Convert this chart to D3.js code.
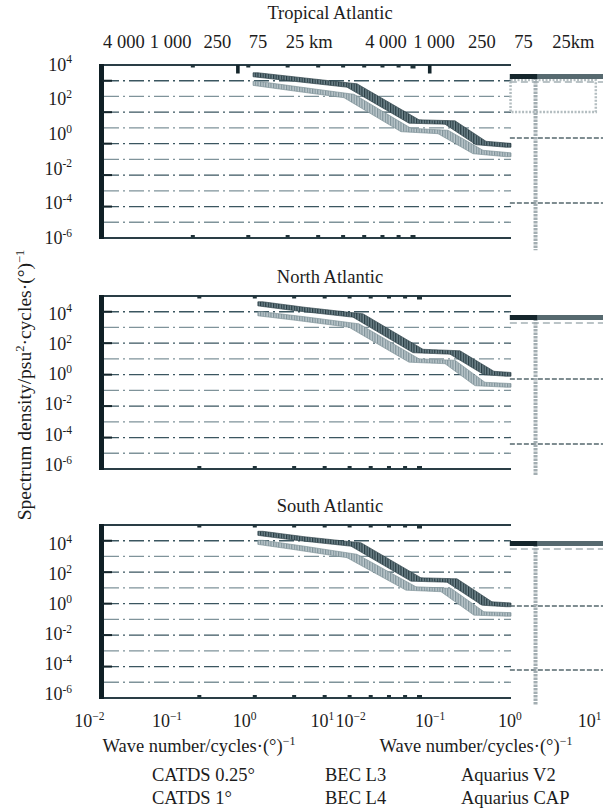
<!DOCTYPE html>
<html><head><meta charset="utf-8">
<script src="https://cdn.jsdelivr.net/npm/d3@7"></script>
<style>
body{margin:0;background:#fff;}
svg text{font-family:"Liberation Serif","Times New Roman",serif;fill:#1c1c1c;}
</style></head>
<body><svg id="fig" width="603" height="809"></svg>
<script>
// ---- data -------------------------------------------------------------
const regions = ["Tropical Atlantic", "North Atlantic", "South Atlantic"];
// SSS wave-number spectra: [wave number (cycles/deg), PSD (psu^2 per cycle/deg)]
const tropicalUpper = [[0.131,2655],[0.288,1330],[0.691,616],[1.959,5.19],[3.587,4.54],[6.039,0.299],[10,0.214]];
const tropicalLower = [[0.131,859],[0.288,367],[0.657,153],[1.712,1.68],[3.189,1.29],[5.742,0.0906],[10,0.0608]];
const northUpper = [[0.142,45700],[0.288,19800],[0.764,7380],[2.095,33.5],[3.901,26.7],[6.908,1.18],[10,0.94]];
const northLower = [[0.142,10000],[0.288,4680],[0.714,1610],[1.959,7.9],[3.587,6.29],[5.939,0.222],[10,0.177]];
const southUpper = [[0.142,54100],[0.288,23300],[0.739,9260],[2.026,43],[3.710,36.9],[6.679,1.08],[10,0.857]];
const southLower = [[0.142,13600],[0.288,5410],[0.691,1585],[1.863,10.8],[3.354,8.58],[5.840,0.233],[10,0.2]];
// right-hand panels: PSD band at the top, two flat levels, cut-off wave number
const rightBar = [[1460,2830],[3720,7960],[7360,15850]];
const rightLevels = [[0.575,1.05e-4],[0.48,2.45e-5],[0.74,4e-5]];
const rightCutoff = 2.1;
const rightDarkEnd = 2.2;
const tropicalInsetK = [1.02, 12];
const tropicalInsetPSD = [18.3, 1280];
// axes
const yTickExps = [4, 2, 0, -2, -4, -6];
const gridExps = [4, 3, 2, 1, 0, -1, -2, -3, -4, -5];
const yMajorExps = [4, 2, 0, -2, -4];
const xTickExps = [-2, -1, 0, 1];
const kmTicks = [4000, 1000, 250, 75, 25];
const minorTicks = [2, 3, 4, 5, 6, 7, 8, 9, 10];
const tropicalTopMarks = [2.78, 11.3];
const legendNames = ["CATDS 0.25°", "CATDS 1°", "BEC L3", "BEC L4", "Aquarius V2", "Aquarius CAP"];
const xTitle = "Wave number/cycles·(°)";
const yTitle = ["Spectrum density/psu", "2", "·cycles·(°)", "−1"];

// ---- layout -----------------------------------------------------------
const W = 603, H = 809;
const boxLeft = 100, boxRight = 511;
const panelBoxes = [
  {top: 65,  bottom: 238, labels: [238, 64.5],  minor: [98, 413],     title: 19},
  {top: 296, bottom: 469, labels: [465, 313.5], minor: [104.5, 419.5], title: 283},
  {top: 525, bottom: 698, labels: [694, 544],   minor: [104.5, 419.5], title: 512}
];
const spectra = [[tropicalUpper, tropicalLower], [northUpper, northLower], [southUpper, southLower]];

const svg = d3.select("#fig");
const defs = svg.append("defs");
function stripes(id, base, line) {
  const p = defs.append("pattern").attr("id", id)
    .attr("patternUnits", "userSpaceOnUse").attr("width", 2.6).attr("height", 4);
  p.append("rect").attr("width", 2.6).attr("height", 4).attr("fill", base);
  p.append("rect").attr("width", 1.2).attr("height", 4).attr("fill", line);
}
stripes("hatchDark", "#71868d", "#293d44");
stripes("hatchLight", "#bcc8cc", "#80939a");

const xBox = d3.scaleLog().domain([0.01, 10]).range([boxLeft, boxRight]);
const xLeftAxis = d3.scaleLog().domain([0.01, 10]).range([89.3, 322.4]);
const xRightAxis = d3.scaleLog().domain([0.01, 10]).range([350.6, 589.5]);

function sup(textSel, base, exp, size) {
  textSel.append("tspan").text(base);
  textSel.append("tspan").attr("font-size", size).attr("dy", -size * 0.62).text(exp);
}

// spectral band drawn as a hatched ribbon around the polyline
function drawBand(g, data, y, fill, edge) {
  const P = data.map(d => [xBox(d[0]), y(d[1])]);
  const x0 = P[0][0], x1 = P[P.length - 1][0];
  const f = x => {
    x = Math.max(x0, Math.min(x1, x));
    for (let i = 1; i < P.length; i++) {
      if (x <= P[i][0]) {
        const t = (x - P[i - 1][0]) / (P[i][0] - P[i - 1][0]);
        return P[i - 1][1] + t * (P[i][1] - P[i - 1][1]);
      }
    }
    return P[P.length - 1][1];
  };
  const dx = 5, h = 3.4;
  const xs = d3.range(x0, x1, 1).concat([x1]);
  const rows = xs.map(x => {
    const a = f(x - dx), b = f(x + dx), c = f(x);
    return {x, t: Math.min(a, b, c) - h / 2, b: Math.max(a, b, c) + h / 2};
  });
  const area = d3.area().x(d => d.x).y0(d => d.b).y1(d => d.t);
  g.append("path").attr("d", area(rows)).attr("fill", fill)
    .attr("stroke", edge).attr("stroke-width", 0.7);
}

panelBoxes.forEach((pb, i) => {
  const g = svg.append("g");
  const yL = d3.scaleLog().domain([1e-6, 1e4]).range(pb.labels);
  const yGrid = d3.scaleLog().domain([1e-6, 1e5]).range([pb.bottom, pb.top]);
  const xMinor = d3.scaleLog().domain([1, 10]).range(pb.minor);

  // title
  g.append("text").attr("x", 330).attr("y", pb.title).attr("text-anchor", "middle")
    .attr("font-size", 18.5).text(regions[i]);

  // dash-dot grid
  g.selectAll(".grid").data(gridExps).join("line")
    .attr("x1", boxLeft + 4).attr("x2", boxRight)
    .attr("y1", e => yGrid(Math.pow(10, e))).attr("y2", e => yGrid(Math.pow(10, e)))
    .attr("stroke", (e, j) => j % 2 === 0 ? "#3b5660" : "#7f939a")
    .attr("stroke-width", 1.3).attr("stroke-dasharray", "15,4,2,4");

  // spectra
  drawBand(g, spectra[i][1], yL, "url(#hatchLight)", "#7d9097");
  drawBand(g, spectra[i][0], yL, "url(#hatchDark)", "#2b3f46");

  // frame
  g.append("line").attr("x1", boxLeft - 1).attr("x2", boxRight).attr("y1", pb.top).attr("y2", pb.top)
    .attr("stroke", "#2a3e46").attr("stroke-width", 2);
  g.append("line").attr("x1", boxLeft - 1).attr("x2", boxRight).attr("y1", pb.bottom).attr("y2", pb.bottom)
    .attr("stroke", "#2a3e46").attr("stroke-width", 2);
  g.append("rect").attr("x", boxLeft - 1).attr("y", pb.top - 1).attr("width", 5)
    .attr("height", pb.bottom - pb.top + 2).attr("fill", "#0f1f25");
  g.selectAll(".ytk").data(yMajorExps).join("line")
    .attr("x1", boxLeft + 2).attr("x2", boxLeft + 12)
    .attr("y1", e => yGrid(Math.pow(10, e))).attr("y2", e => yGrid(Math.pow(10, e)))
    .attr("stroke", "#14252b").attr("stroke-width", 2);
  [pb.top, pb.bottom - 3].forEach(yy => {
    g.selectAll(null).data(minorTicks).join("rect")
      .attr("x", d => xMinor(d) - (d === 10 ? 2.5 : 2)).attr("y", yy)
      .attr("width", d => d === 10 ? 5 : 4).attr("height", d => d === 10 ? 3.5 : 2.5)
      .attr("fill", "#1f3238");
  });
  if (i === 0) {
    g.selectAll(".mk").data(tropicalTopMarks).join("rect")
      .attr("x", d => xMinor(d) - 1.8).attr("y", pb.top).attr("width", 3.6).attr("height", 8.5)
      .attr("fill", "#14252b");
  }

  // y tick labels
  yTickExps.forEach(e => {
    const t = g.append("text").attr("x", 72).attr("y", yL(Math.pow(10, e)) + 6)
      .attr("text-anchor", "end").attr("font-size", 18);
    sup(t, "10", e < 0 ? "-" + (-e) : String(e), 11.5);
  });

  // right-hand panel fragment
  const r = svg.append("g");
  const bar = rightBar[i], lv = rightLevels[i];
  if (i === 0) {
    r.append("rect").attr("x", xRightAxis(tropicalInsetK[0])).attr("y", yL(tropicalInsetPSD[1]))
      .attr("width", xRightAxis(tropicalInsetK[1]) - xRightAxis(tropicalInsetK[0]))
      .attr("height", yL(tropicalInsetPSD[0]) - yL(tropicalInsetPSD[1]))
      .attr("fill", "none").attr("stroke", "#b3bdc0").attr("stroke-width", 2.5)
      .attr("stroke-dasharray", "2,1.5");
  }
  r.append("line").attr("x1", xRightAxis(1)).attr("x2", W)
    .attr("y1", yL(bar[0]) + 3).attr("y2", yL(bar[0]) + 3)
    .attr("stroke", "#a5b1b5").attr("stroke-width", 1.5).attr("stroke-dasharray", "7,4");
  lv.forEach(v => {
    r.append("line").attr("x1", xRightAxis(1)).attr("x2", W)
      .attr("y1", yL(v)).attr("y2", yL(v))
      .attr("stroke", "#56686e").attr("stroke-width", 1.4).attr("stroke-dasharray", "5,2");
  });
  r.append("line").attr("x1", xRightAxis(rightCutoff)).attr("x2", xRightAxis(rightCutoff))
    .attr("y1", yL(bar[1])).attr("y2", yL(2e-7))
    .attr("stroke", "#a3aeb2").attr("stroke-width", 4).attr("stroke-dasharray", "2.5,1");
  r.append("rect").attr("x", xRightAxis(1)).attr("y", yL(bar[1]))
    .attr("width", W - xRightAxis(1)).attr("height", yL(bar[0]) - yL(bar[1])).attr("fill", "#56696f");
  r.append("rect").attr("x", xRightAxis(1)).attr("y", yL(bar[1]))
    .attr("width", xRightAxis(rightDarkEnd) - xRightAxis(1)).attr("height", yL(bar[0]) - yL(bar[1]))
    .attr("fill", "#15262c");
});

// km labels along the top
[xLeftAxis, xRightAxis].forEach((sc, j) => {
  kmTicks.forEach((km, n) => {
    const k = 111.32 / km;
    const label = km >= 1000 ? String(km).replace(/(\d)(\d{3})$/, "$1 $2") : String(km);
    if (n === kmTicks.length - 1) {
      svg.append("text").attr("x", sc(k) - 9.25).attr("y", 48).attr("font-size", 18.5)
        .text(label + (j === 0 ? " km" : "km"));
    } else {
      svg.append("text").attr("x", sc(k)).attr("y", 48).attr("text-anchor", "middle")
        .attr("font-size", 18.5).text(label);
    }
  });
});

// bottom wave-number axes
[xLeftAxis, xRightAxis].forEach(sc => {
  xTickExps.forEach(e => {
    const t = svg.append("text").attr("x", sc(Math.pow(10, e))).attr("y", 727)
      .attr("text-anchor", "middle").attr("font-size", 18);
    sup(t, "10", e < 0 ? "−" + (-e) : String(e), 11.5);
  });
});
[199, 476].forEach(cx => {
  const t = svg.append("text").attr("x", cx).attr("y", 752).attr("text-anchor", "middle").attr("font-size", 18.5);
  sup(t, xTitle, "−1", 12);
});

// y title
const yt = svg.append("text").attr("transform", "translate(31,385) rotate(-90)")
  .attr("text-anchor", "middle").attr("font-size", 19.5);
yt.append("tspan").text(yTitle[0]);
yt.append("tspan").attr("font-size", 12.5).attr("dy", -7).text(yTitle[1]);
yt.append("tspan").attr("dy", 7).text(yTitle[2]);
yt.append("tspan").attr("font-size", 12.5).attr("dy", -7).text(yTitle[3]);

// legend entries
const legendX = [152, 325, 461], legendY = [781, 804];
legendNames.forEach((name, n) => {
  svg.append("text").attr("x", legendX[Math.floor(n / 2)]).attr("y", legendY[n % 2])
    .attr("font-size", 18.5).text(name);
});
</script></body></html>
